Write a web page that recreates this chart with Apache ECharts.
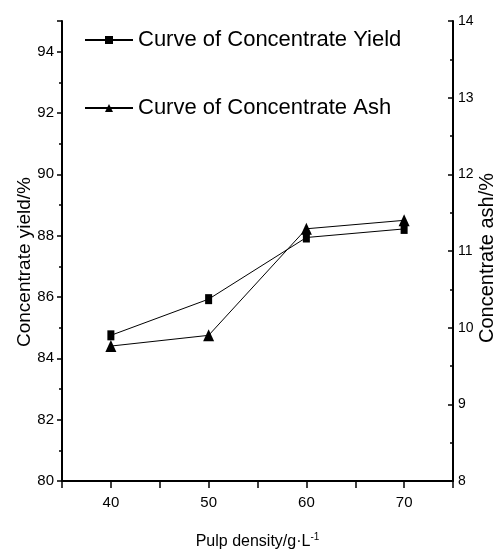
<!DOCTYPE html>
<html>
<head>
<meta charset="utf-8">
<script src="https://cdn.jsdelivr.net/npm/echarts@6/dist/echarts.min.js"></script>
<style>html,body{margin:0;padding:0;background:#fff}#c{width:496px;height:552px}</style>
</head>
<body>
<div id="c"></div>
<script>
const pulpDensity = [40, 50, 60, 70];
const concentrateYield = [84.75, 85.93, 87.94, 88.22];
const concentrateAsh = [9.76, 9.90, 11.29, 11.40];
const seriesNames = ['Curve of Concentrate Yield', 'Curve of Concentrate Ash'];
const xTitle = 'Pulp density/g·L';
const yLeftTitle = 'Concentrate yield/%';
const yRightTitle = 'Concentrate ash/%';

const ARIAL = '"Liberation Sans",Arial,sans-serif';

const chart = echarts.init(document.getElementById('c'), null, {renderer: 'canvas'});
const axisLine = {show: true, lineStyle: {color: '#000', width: 2}};
chart.setOption({
  backgroundColor: '#fff',
  animation: false,
  grid: {left: 62, right: 43, top: 21, bottom: 71, containLabel: false, outerBoundsMode: 'none'},
  legend: {
    orient: 'vertical',
    left: 79,
    top: 20,
    itemWidth: 48,
    itemHeight: 10,
    itemGap: 38,
    textStyle: {fontFamily: ARIAL, fontSize: 22, color: '#000', lineHeight: 30},
    data: seriesNames
  },
  xAxis: {
    type: 'value',
    min: 35, max: 75, interval: 5,
    axisLine: axisLine,
    axisTick: {show: true, inside: false, length: 7, lineStyle: {color: '#000', width: 1.5}},
    axisLabel: {fontFamily: ARIAL, fontSize: 15, color: '#000', margin: 14,
      formatter: v => (v % 10 === 0 ? String(v) : '')},
    splitLine: {show: false},
    name: '{a|' + xTitle + '}{s|-1}',
    nameLocation: 'middle',
    nameGap: 51,
    nameTextStyle: {rich: {
      a: {fontFamily: ARIAL, fontSize: 16, color: '#000'},
      s: {fontFamily: ARIAL, fontSize: 10, color: '#000', verticalAlign: 'top', padding: [0, 0, 10, 0]}
    }}
  },
  yAxis: [{
    type: 'value',
    position: 'left',
    min: 80, max: 95, interval: 2,
    axisLine: axisLine,
    axisTick: {show: true, inside: false, length: 5, lineStyle: {color: '#000', width: 1.5}},
    minorTick: {show: true, splitNumber: 2, length: 3, lineStyle: {color: '#000', width: 1.5}},
    axisLabel: {fontFamily: ARIAL, fontSize: 15, color: '#000', margin: 8, showMaxLabel: false},
    splitLine: {show: false},
    name: yLeftTitle,
    nameLocation: 'middle',
    nameRotate: 90,
    nameGap: 28,
    nameMoveOverlap: false,
    nameTextStyle: {fontFamily: ARIAL, fontSize: 19, color: '#000', padding: [0, 22, 0, 0]}
  }, {
    type: 'value',
    position: 'right',
    min: 8, max: 14, interval: 1,
    axisLine: axisLine,
    axisTick: {show: true, inside: true, length: 5, lineStyle: {color: '#000', width: 1.5}},
    minorTick: {show: true, splitNumber: 2, length: 3, lineStyle: {color: '#000', width: 1.5}},
    axisLabel: {fontFamily: ARIAL, fontSize: 14, color: '#000', margin: 5},
    splitLine: {show: false},
    name: yRightTitle,
    nameLocation: 'middle',
    nameRotate: 90,
    nameGap: 24,
    nameMoveOverlap: false,
    nameTextStyle: {fontFamily: ARIAL, fontSize: 20, color: '#000', padding: [0, 14, 0, 0]}
  }],
  series: [{
    name: seriesNames[0],
    type: 'line',
    yAxisIndex: 0,
    data: pulpDensity.map((x, i) => [x, concentrateYield[i]]),
    symbol: 'rect',
    symbolSize: [7, 10],
    lineStyle: {color: '#000', width: 1},
    itemStyle: {color: '#000'}
  }, {
    name: seriesNames[1],
    type: 'line',
    yAxisIndex: 1,
    data: pulpDensity.map((x, i) => [x, concentrateAsh[i]]),
    symbol: 'triangle',
    symbolSize: [11, 12],
    lineStyle: {color: '#000', width: 1},
    itemStyle: {color: '#000'}
  }]
});
</script>
</body>
</html>
